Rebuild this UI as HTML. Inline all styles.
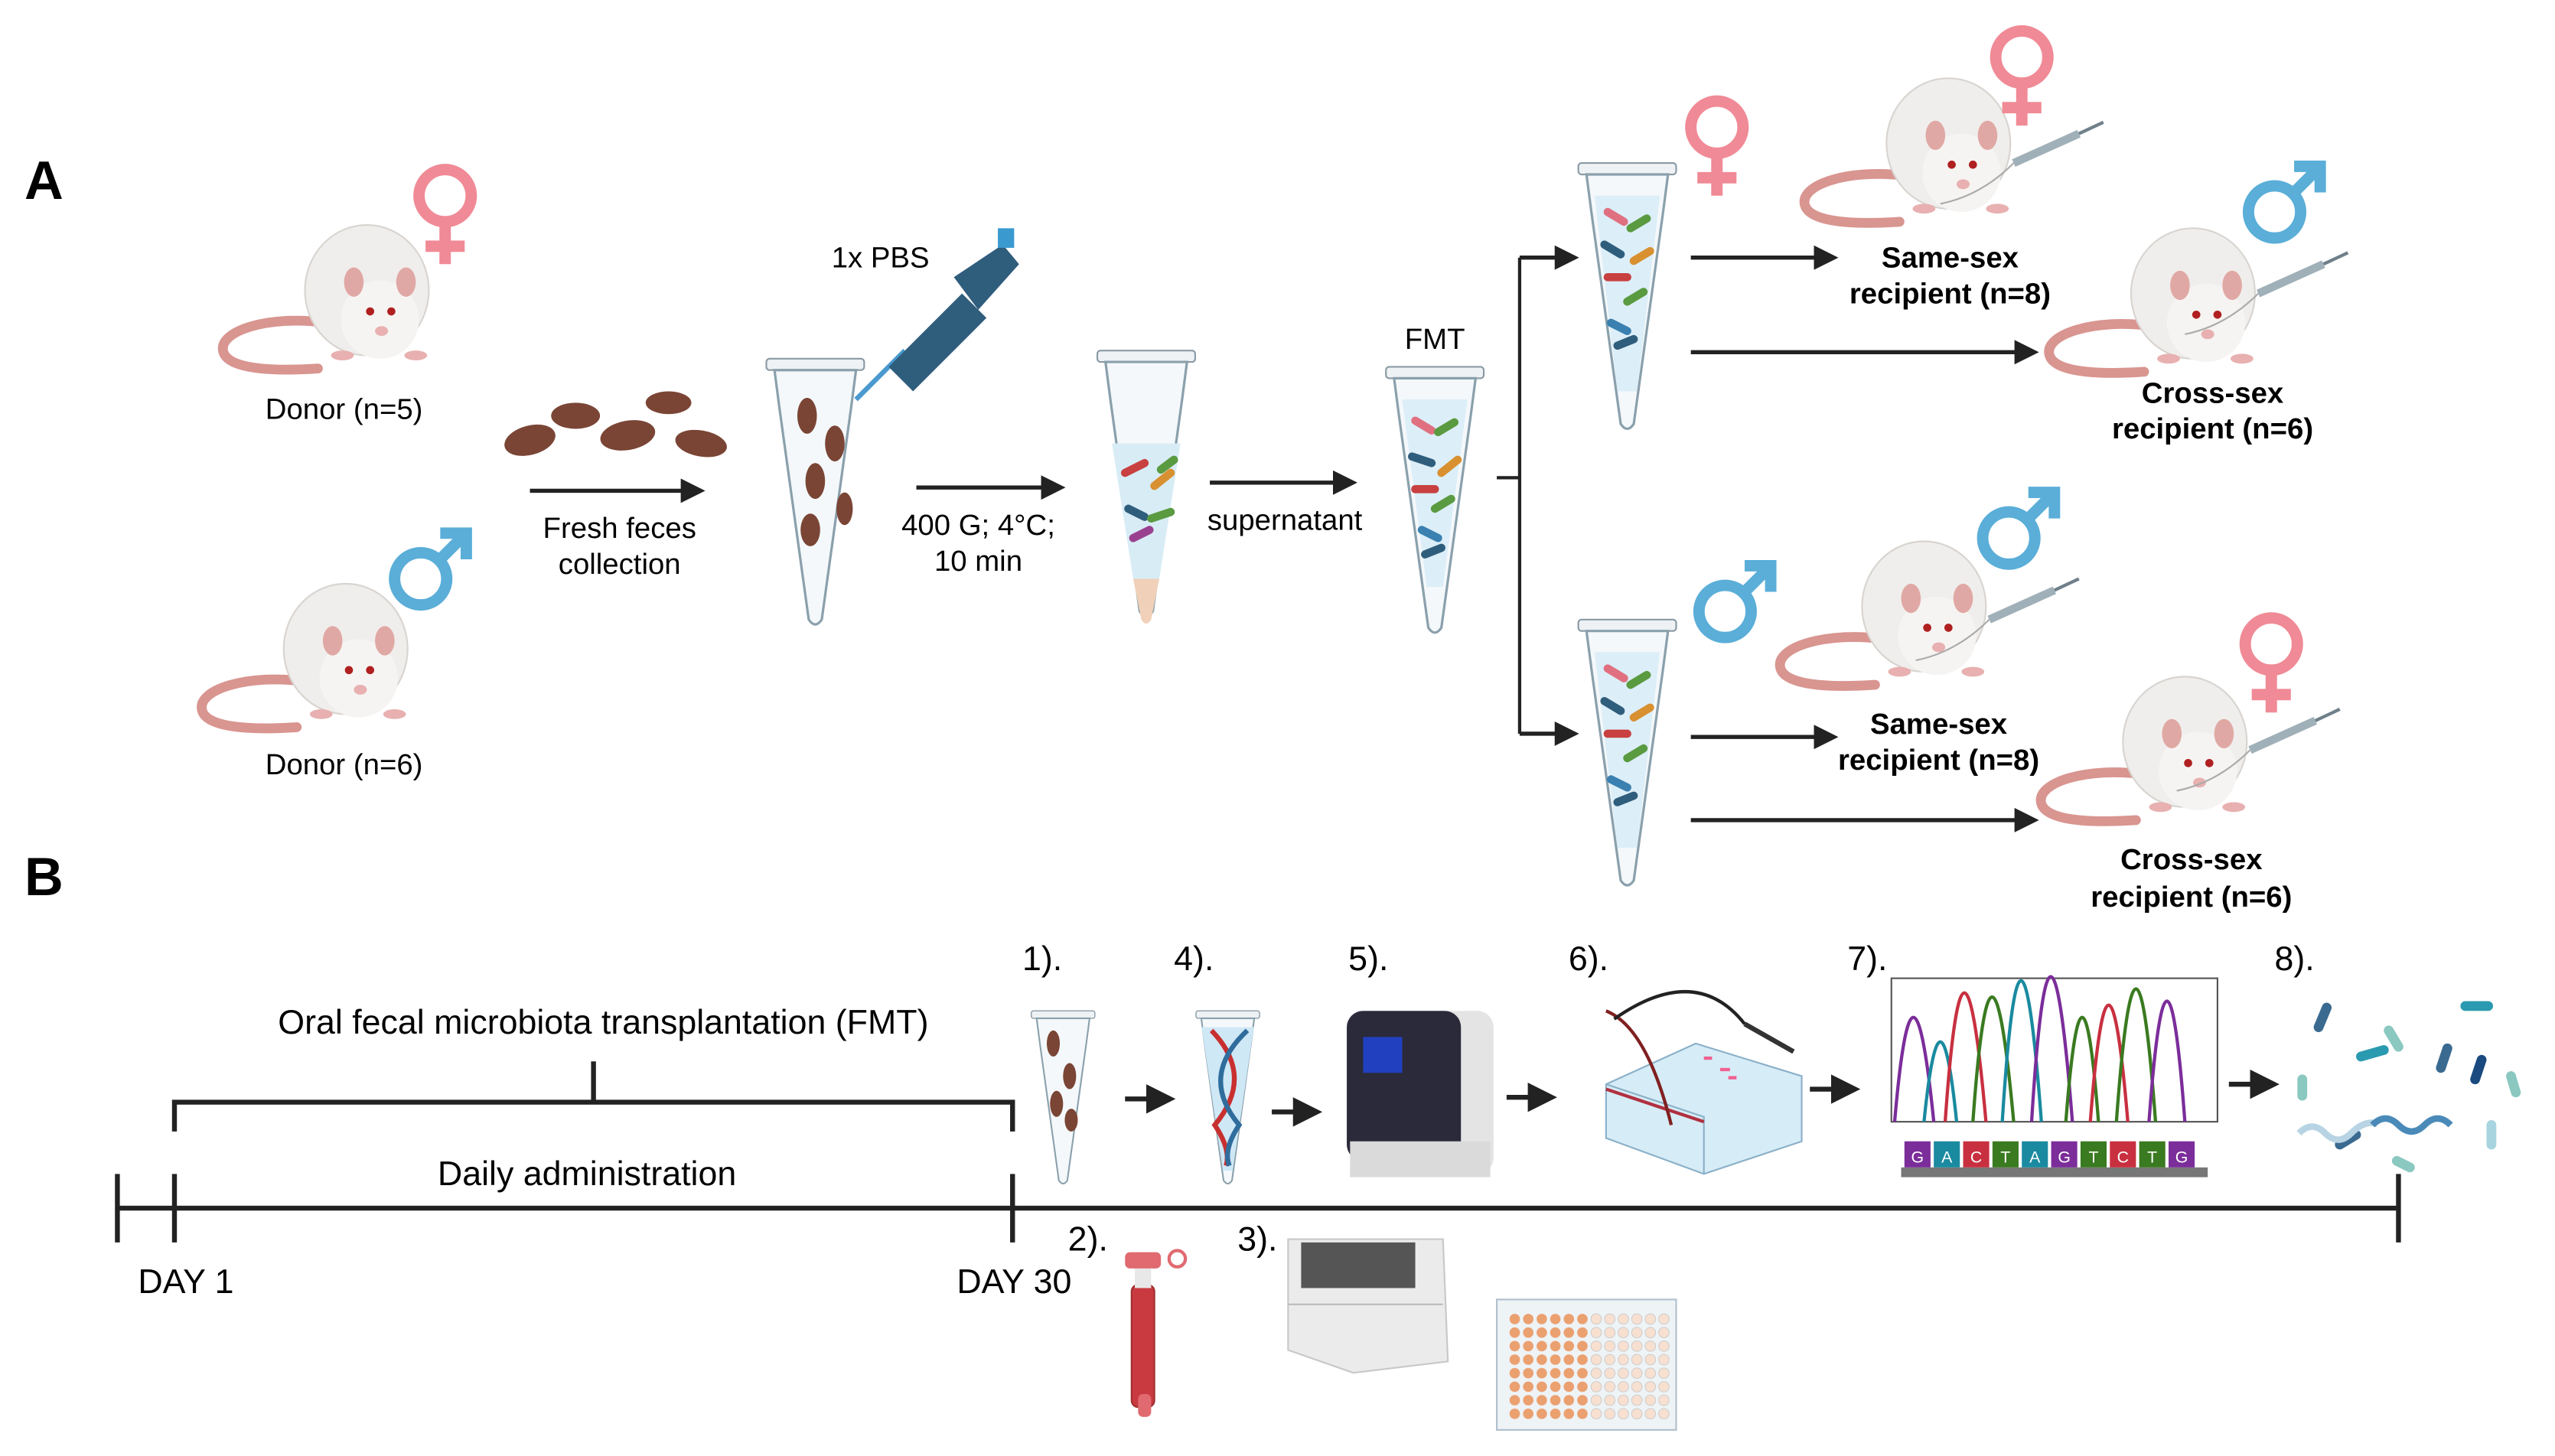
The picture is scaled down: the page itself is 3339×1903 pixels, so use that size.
<!DOCTYPE html>
<html><head><meta charset="utf-8"><style>
html,body{margin:0;padding:0;background:#fff;}
svg{display:block;}
text{font-family:"Liberation Sans",sans-serif;}
</style></head><body>
<svg width="3339" height="1903" viewBox="0 0 1567 893" preserveAspectRatio="none" xmlns="http://www.w3.org/2000/svg">
<defs>
<marker id="ah" markerWidth="6" markerHeight="6" refX="5" refY="3" orient="auto" markerUnits="strokeWidth">
<path d="M0,0 L6,3 L0,6 z" fill="#222"/></marker>
<g id="rat">
<path d="M-25,20 C-60,15 -92,25 -88,38 C-85,48 -60,50 -30,48" fill="none" stroke="#d99590" stroke-width="6" stroke-linecap="round"/>
<ellipse cx="0" cy="0" rx="38" ry="40" fill="#f0eeec" stroke="#d8d4d0" stroke-width="1"/>
<ellipse cx="8" cy="18" rx="24" ry="24" fill="#f6f4f2"/>
<ellipse cx="-8" cy="-5" rx="6" ry="9" fill="#e0a8a4"/>
<ellipse cx="24" cy="-5" rx="6" ry="9" fill="#e0a8a4"/>
<circle cx="2" cy="13" r="2.5" fill="#b02020"/>
<circle cx="15" cy="13" r="2.5" fill="#b02020"/>
<ellipse cx="9" cy="25" rx="4" ry="3" fill="#e8b0b0"/>
<ellipse cx="-15" cy="40" rx="7" ry="3" fill="#e8b0b0"/>
<ellipse cx="30" cy="40" rx="7" ry="3" fill="#e8b0b0"/>
</g>
<g id="fem"><circle cx="0" cy="0" r="16" fill="none" stroke="#f08a96" stroke-width="7"/><path d="M0,16 V42 M-12,31 H12" stroke="#f08a96" stroke-width="7"/></g>
<g id="mal"><circle cx="0" cy="0" r="16" fill="none" stroke="#5aaed8" stroke-width="7"/><path d="M11,-11 L27,-27 M12,-28 H28 V-12" stroke="#5aaed8" stroke-width="7" fill="none"/></g>
<g id="tube">
<rect x="-30" y="0" width="60" height="7" rx="2" fill="#eef2f4" stroke="#8a9aa4"/>
<path d="M-25,7 L25,7 L22,30 L4,160 Q0,166 -4,160 L-22,30 Z" fill="#f4f8fa" stroke="#8aa0ac" stroke-width="1.5"/>
</g>
<g id="syr"><path d="M0,0 L40,-18" stroke="#a0b0b8" stroke-width="5"/><path d="M40,-18 L55,-25" stroke="#70808a" stroke-width="2"/><path d="M-45,25 Q-20,20 0,0" fill="none" stroke="#aaa" stroke-width="1"/></g>
</defs>

<text x="15" y="122" font-size="33" font-weight="bold">A</text>
<text x="15" y="549" font-size="33" font-weight="bold">B</text>

<use href="#rat" x="225" y="178"/>
<use href="#fem" x="273" y="120"/>
<text x="211" y="257" font-size="18" text-anchor="middle">Donor (n=5)</text>
<use href="#rat" x="212" y="398"/>
<use href="#mal" x="258" y="355"/>
<text x="211" y="475" font-size="18" text-anchor="middle">Donor (n=6)</text>

<g fill="#7a4535">
<ellipse cx="325" cy="270" rx="16" ry="9" transform="rotate(-15 325 270)"/>
<ellipse cx="353" cy="255" rx="15" ry="8"/>
<ellipse cx="385" cy="267" rx="17" ry="9" transform="rotate(-10 385 267)"/>
<ellipse cx="410" cy="247" rx="14" ry="7"/>
<ellipse cx="430" cy="272" rx="16" ry="8" transform="rotate(10 430 272)"/>
</g>
<line x1="325" y1="301" x2="430" y2="301" stroke="#222" stroke-width="2.5" marker-end="url(#ah)"/>
<text x="380" y="330" font-size="18" text-anchor="middle">Fresh feces</text>
<text x="380" y="352" font-size="18" text-anchor="middle">collection</text>

<use href="#tube" x="500" y="220"/>
<g fill="#7a4535"><ellipse cx="495" cy="255" rx="6" ry="11"/><ellipse cx="512" cy="272" rx="6" ry="11"/><ellipse cx="500" cy="295" rx="6" ry="11"/><ellipse cx="518" cy="312" rx="5" ry="10"/><ellipse cx="497" cy="325" rx="6" ry="10"/></g>
<path d="M525,245 L555,215" stroke="#4a9ad0" stroke-width="3"/>
<path d="M545,225 L590,180 L605,195 L560,240 Z" fill="#2f5d7c"/>
<path d="M585,170 L615,150 L625,162 L600,190 Z" fill="#2f5d7c"/>
<rect x="612" y="140" width="10" height="12" fill="#3a9ad0"/>
<text x="540" y="164" font-size="18" text-anchor="middle">1x PBS</text>

<line x1="562" y1="299" x2="651" y2="299" stroke="#222" stroke-width="2.5" marker-end="url(#ah)"/>
<text x="600" y="328" font-size="18" text-anchor="middle">400 G; 4°C;</text>
<text x="600" y="350" font-size="18" text-anchor="middle">10 min</text>

<use href="#tube" x="703" y="215"/>
<path d="M682,272 L724,272 L711,355 L695,355 Z" fill="#d8ecf6"/>
<path d="M695,355 L711,355 L706,380 Q703,385 700,380 Z" fill="#f0d0b8"/>
<g stroke-width="5" stroke-linecap="round"><path d="M690,290 l12,-6" stroke="#c84040"/><path d="M708,298 l10,-8" stroke="#d89030"/><path d="M692,312 l10,5" stroke="#2f5d7c"/><path d="M706,318 l12,-4" stroke="#5a9a40"/><path d="M695,330 l10,-5" stroke="#9a4090"/><path d="M712,288 l8,-6" stroke="#5a9a40"/></g>

<line x1="742" y1="296" x2="830" y2="296" stroke="#222" stroke-width="2.5" marker-end="url(#ah)"/>
<text x="788" y="325" font-size="18" text-anchor="middle">supernatant</text>

<text x="880" y="214" font-size="18" text-anchor="middle">FMT</text>
<use href="#tube" x="880" y="225"/>
<path d="M860,245 L900,245 L885,360 L875,360 Z" fill="#dceef8"/>
<g stroke-width="5" stroke-linecap="round"><path d="M868,258 l10,6" stroke="#e07080"/><path d="M882,265 l10,-6" stroke="#5a9a40"/><path d="M866,280 l12,4" stroke="#2f5d7c"/><path d="M884,290 l10,-8" stroke="#d89030"/><path d="M868,300 l12,0" stroke="#c84040"/><path d="M880,312 l10,-6" stroke="#5a9a40"/><path d="M872,325 l10,5" stroke="#3a80b0"/><path d="M874,340 l10,-4" stroke="#2f5d7c"/></g>

<path d="M918,293 H932 M932,158 V450" stroke="#222" stroke-width="2" fill="none"/>
<line x1="932" y1="158" x2="966" y2="158" stroke="#222" stroke-width="2.5" marker-end="url(#ah)"/>
<line x1="932" y1="450" x2="966" y2="450" stroke="#222" stroke-width="2.5" marker-end="url(#ah)"/>

<use href="#tube" x="998" y="100"/>
<path d="M978,120 L1018,120 L1004,240 L992,240 Z" fill="#dceef8"/>
<g stroke-width="5" stroke-linecap="round"><path d="M986,130 l10,6" stroke="#e07080"/><path d="M1000,140 l10,-6" stroke="#5a9a40"/><path d="M984,150 l10,6" stroke="#2f5d7c"/><path d="M1002,160 l10,-6" stroke="#d89030"/><path d="M986,170 l12,0" stroke="#c84040"/><path d="M998,185 l10,-6" stroke="#5a9a40"/><path d="M988,198 l10,5" stroke="#3a80b0"/><path d="M992,212 l10,-4" stroke="#2f5d7c"/></g>
<use href="#tube" x="998" y="380"/>
<path d="M978,400 L1018,400 L1004,520 L992,520 Z" fill="#dceef8"/>
<g stroke-width="5" stroke-linecap="round"><path d="M986,410 l10,6" stroke="#e07080"/><path d="M1000,420 l10,-6" stroke="#5a9a40"/><path d="M984,430 l10,6" stroke="#2f5d7c"/><path d="M1002,440 l10,-6" stroke="#d89030"/><path d="M986,450 l12,0" stroke="#c84040"/><path d="M998,465 l10,-6" stroke="#5a9a40"/><path d="M988,478 l10,5" stroke="#3a80b0"/><path d="M992,492 l10,-4" stroke="#2f5d7c"/></g>
<use href="#fem" x="1053" y="78"/>
<use href="#mal" x="1058" y="375"/>

<line x1="1037" y1="158" x2="1125" y2="158" stroke="#222" stroke-width="2.5" marker-end="url(#ah)"/>
<line x1="1037" y1="216" x2="1248" y2="216" stroke="#222" stroke-width="2.5" marker-end="url(#ah)"/>
<line x1="1037" y1="452" x2="1125" y2="452" stroke="#222" stroke-width="2.5" marker-end="url(#ah)"/>
<line x1="1037" y1="503" x2="1248" y2="503" stroke="#222" stroke-width="2.5" marker-end="url(#ah)"/>

<use href="#rat" x="1195" y="88"/><use href="#syr" x="1235" y="100"/><use href="#fem" x="1240" y="35"/>
<text x="1196" y="164" font-size="18" font-weight="bold" text-anchor="middle">Same-sex</text>
<text x="1196" y="186" font-size="18" font-weight="bold" text-anchor="middle">recipient (n=8)</text>
<use href="#rat" x="1345" y="180"/><use href="#syr" x="1385" y="180"/><use href="#mal" x="1395" y="130"/>
<text x="1357" y="247" font-size="18" font-weight="bold" text-anchor="middle">Cross-sex</text>
<text x="1357" y="269" font-size="18" font-weight="bold" text-anchor="middle">recipient (n=6)</text>
<use href="#rat" x="1180" y="372"/><use href="#syr" x="1220" y="380"/><use href="#mal" x="1232" y="330"/>
<text x="1189" y="450" font-size="18" font-weight="bold" text-anchor="middle">Same-sex</text>
<text x="1189" y="472" font-size="18" font-weight="bold" text-anchor="middle">recipient (n=8)</text>
<use href="#rat" x="1340" y="455"/><use href="#syr" x="1380" y="460"/><use href="#fem" x="1393" y="395"/>
<text x="1344" y="533" font-size="18" font-weight="bold" text-anchor="middle">Cross-sex</text>
<text x="1344" y="556" font-size="18" font-weight="bold" text-anchor="middle">recipient (n=6)</text>

<g stroke="#222" stroke-width="3" fill="none">
<line x1="72" y1="741" x2="1471" y2="741"/>
<line x1="72" y1="720" x2="72" y2="762"/>
<line x1="107" y1="720" x2="107" y2="762"/>
<line x1="621" y1="720" x2="621" y2="762"/>
<line x1="1471" y1="720" x2="1471" y2="762"/>
<path d="M107,694 V676 H621 V694"/>
<line x1="364" y1="651" x2="364" y2="676"/>
</g>
<text x="370" y="634" font-size="21" text-anchor="middle">Oral fecal microbiota transplantation (FMT)</text>
<text x="360" y="727" font-size="21" text-anchor="middle">Daily administration</text>
<text x="114" y="793" font-size="21" text-anchor="middle">DAY 1</text>
<text x="622" y="793" font-size="21" text-anchor="middle">DAY 30</text>

<g font-size="21"><text x="627" y="595">1).</text><text x="720" y="595">4).</text><text x="827" y="595">5).</text><text x="962" y="595">6).</text><text x="1133" y="595">7).</text><text x="1395" y="595">8).</text><text x="655" y="767">2).</text><text x="759" y="767">3).</text></g>

<g stroke="#222" stroke-width="3"><line x1="690" y1="674" x2="718" y2="674" marker-end="url(#ah)"/><line x1="780" y1="682" x2="808" y2="682" marker-end="url(#ah)"/><line x1="924" y1="673" x2="952" y2="673" marker-end="url(#ah)"/><line x1="1110" y1="668" x2="1138" y2="668" marker-end="url(#ah)"/><line x1="1367" y1="665" x2="1395" y2="665" marker-end="url(#ah)"/></g>

<g transform="translate(652,620) scale(0.65)"><use href="#tube"/></g>
<g fill="#7a4535"><ellipse cx="646" cy="640" rx="4" ry="8"/><ellipse cx="656" cy="660" rx="4" ry="8"/><ellipse cx="648" cy="677" rx="4" ry="8"/><ellipse cx="657" cy="687" rx="4" ry="7"/></g>
<g transform="translate(753,620) scale(0.65)"><use href="#tube"/></g>
<path d="M737,630 L769,630 L756,718 L750,718 Z" fill="#cfe8f6"/>
<path d="M743,632 Q770,660 745,690 Q755,705 752,715" stroke="#c83030" stroke-width="3" fill="none"/>
<path d="M765,632 Q735,660 760,690 Q750,705 754,715" stroke="#2f6d9c" stroke-width="3" fill="none"/>

<rect x="832" y="620" width="84" height="100" rx="10" fill="#e4e4e4"/>
<rect x="826" y="620" width="70" height="92" rx="10" fill="#2a2a3a"/>
<rect x="836" y="636" width="24" height="22" fill="#2040c0"/>
<rect x="828" y="700" width="86" height="22" fill="#dadada"/>

<path d="M985,665 L1040,640 L1105,660 L1105,700 L1045,720 L985,698 Z" fill="#d6ecf6" stroke="#8ab0c8"/>
<path d="M985,665 L1045,685 L1045,720" stroke="#8ab0c8" fill="none"/>
<line x1="985" y1="668" x2="1045" y2="688" stroke="#b03040" stroke-width="2"/>
<path d="M1025,690 Q1010,630 985,620" stroke="#802020" stroke-width="2" fill="none"/>
<path d="M1070,628 Q1040,590 990,625" stroke="#222" stroke-width="2" fill="none"/>
<path d="M1070,628 L1100,645" stroke="#333" stroke-width="3"/>
<g fill="#f06090"><rect x="1045" y="648" width="5" height="2"/><rect x="1055" y="655" width="6" height="2"/><rect x="1060" y="660" width="5" height="2"/></g>

<rect x="1160" y="600" width="200" height="88" fill="#fff" stroke="#555" stroke-width="1"/>
<g fill="none" stroke-width="2">
<path d="M1162,688 Q1173,560 1186,688" stroke="#7b2d9a"/>
<path d="M1180,688 Q1190,590 1200,688" stroke="#1a8aa0"/>
<path d="M1193,688 Q1204,530 1218,688" stroke="#c83040"/>
<path d="M1210,688 Q1221,535 1235,688" stroke="#3a7a20"/>
<path d="M1228,688 Q1239,515 1252,688" stroke="#1a8aa0"/>
<path d="M1246,688 Q1257,510 1271,688" stroke="#7b2d9a"/>
<path d="M1267,688 Q1277,560 1287,688" stroke="#3a7a20"/>
<path d="M1282,688 Q1293,545 1305,688" stroke="#c83040"/>
<path d="M1298,688 Q1310,525 1322,688" stroke="#3a7a20"/>
<path d="M1318,688 Q1329,540 1340,688" stroke="#7b2d9a"/>
</g>
<rect x="1166" y="716" width="188" height="6" fill="#777"/>
<g font-size="10" fill="#fff" text-anchor="middle">
<rect x="1168" y="700" width="16" height="16" fill="#7b2d9a"/><text x="1176" y="713">G</text>
<rect x="1186" y="700" width="16" height="16" fill="#1a8aa0"/><text x="1194" y="713">A</text>
<rect x="1204" y="700" width="16" height="16" fill="#c83040"/><text x="1212" y="713">C</text>
<rect x="1222" y="700" width="16" height="16" fill="#3a7a20"/><text x="1230" y="713">T</text>
<rect x="1240" y="700" width="16" height="16" fill="#1a8aa0"/><text x="1248" y="713">A</text>
<rect x="1258" y="700" width="16" height="16" fill="#7b2d9a"/><text x="1266" y="713">G</text>
<rect x="1276" y="700" width="16" height="16" fill="#3a7a20"/><text x="1284" y="713">T</text>
<rect x="1294" y="700" width="16" height="16" fill="#c83040"/><text x="1302" y="713">C</text>
<rect x="1312" y="700" width="16" height="16" fill="#3a7a20"/><text x="1320" y="713">T</text>
<rect x="1330" y="700" width="16" height="16" fill="#7b2d9a"/><text x="1338" y="713">G</text>
</g>

<g stroke-linecap="round" stroke-width="6">
<path d="M1422,630 l5,-12" stroke="#3a6a90"/><path d="M1465,632 l6,10" stroke="#8ac8c0"/>
<path d="M1512,617 l14,0" stroke="#2a9ab0"/><path d="M1448,648 l14,-4" stroke="#2a9ab0"/>
<path d="M1497,655 l4,-12" stroke="#3a6a90"/><path d="M1518,662 l4,-12" stroke="#1a4a80"/>
<path d="M1412,662 l0,10" stroke="#8ac8c0"/><path d="M1540,660 l3,10" stroke="#8ac8c0"/>
<path d="M1435,702 l10,-6" stroke="#3a6a90"/><path d="M1470,712 l8,4" stroke="#8ac8c0"/>
<path d="M1528,690 l0,12" stroke="#a8d4e0"/>
</g>
<path d="M1410,695 q8,-8 16,0 t16,0 t16,-6" stroke="#b8d4e4" stroke-width="4" fill="none"/>
<path d="M1455,690 q8,-8 16,0 t16,0 t16,0" stroke="#4a8ab8" stroke-width="4" fill="none"/>

<rect x="694" y="788" width="14" height="75" rx="4" fill="#c83a40" stroke="#a03030"/>
<rect x="696" y="778" width="10" height="12" fill="#e8e8e8"/>
<rect x="690" y="768" width="22" height="10" rx="3" fill="#e06a70"/>
<circle cx="722" cy="772" r="5" fill="none" stroke="#e06a70" stroke-width="2"/>
<rect x="698" y="855" width="8" height="14" rx="3" fill="#e06a70"/>

<path d="M790,760 L885,760 L888,835 L830,842 L790,828 Z" fill="#ebebeb" stroke="#c8c8c8"/>
<rect x="798" y="762" width="70" height="28" fill="#555"/>
<line x1="790" y1="800" x2="885" y2="800" stroke="#bbb"/>

<rect x="918" y="797" width="110" height="80" fill="#eef3f6" stroke="#b0c0cc"/>
<pattern id="pw" width="8.3" height="8.3" patternUnits="userSpaceOnUse" x="925" y="805"><circle cx="4" cy="4" r="3.2" fill="#eba070"/></pattern>
<rect x="925" y="805" width="50" height="66" fill="url(#pw)"/>
<pattern id="pw2" width="8.3" height="8.3" patternUnits="userSpaceOnUse" x="975" y="805"><circle cx="4" cy="4" r="3.2" fill="#f8e0d0" stroke="#ccc" stroke-width="0.5"/></pattern>
<rect x="975" y="805" width="50" height="66" fill="url(#pw2)"/>
</svg>
</body></html>
